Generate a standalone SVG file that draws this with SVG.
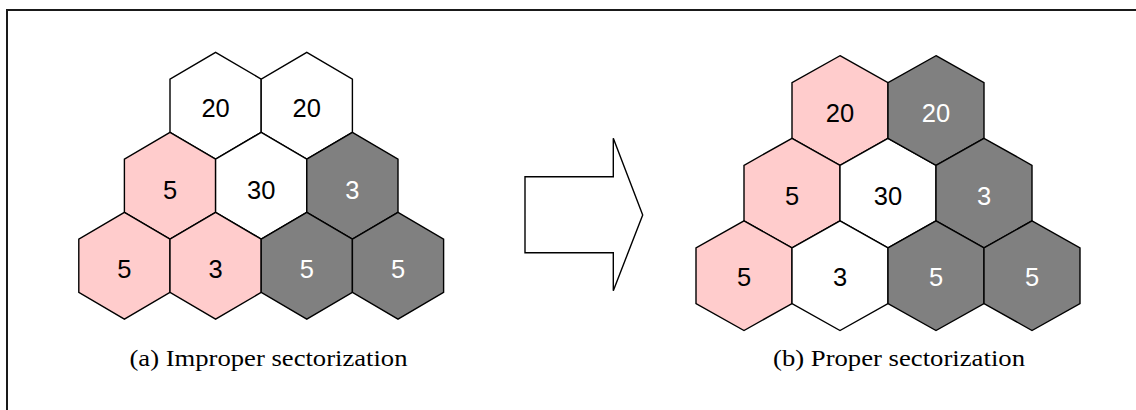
<svg xmlns="http://www.w3.org/2000/svg" width="1136" height="410" viewBox="0 0 1136 410">
  <style>
    .cell { stroke: #000; stroke-width: 1.4; stroke-linejoin: miter; }
    .white { fill: #ffffff; }
    .pink { fill: #ffcccc; }
    .gray { fill: #808080; }
    .num { font-family: "Liberation Sans", Arial, sans-serif; font-size: 25.5px; text-anchor: middle; fill: #000; }
    .num.light { fill: #ffffff; }
    .caption { font-family: "Liberation Serif", "Times New Roman", serif; font-size: 23px; fill: #000; }
    .arrow { fill: #ffffff; stroke: #000; stroke-width: 1.4; stroke-linejoin: miter; }
  </style>

  <rect x="0" y="0" width="1136" height="410" fill="#ffffff"/>
  <!-- outer frame (continues past the right and bottom edges) -->
  <rect x="7" y="10" width="1150" height="420" fill="none" stroke="#1a1a1a" stroke-width="2"/>

  <!-- (a) improper sectorization -->
  <g id="panel-a">
    <g id="a-r1-c1"><polygon class="cell white" points="215.6,52.3 261.2,79.05 261.2,132.35 215.6,159.1 170,132.35 170,79.05"/><text class="num" x="215.6" y="117">20</text></g>
    <g id="a-r1-c2"><polygon class="cell white" points="306.8,52.3 352.4,79.05 352.4,132.35 306.8,159.1 261.2,132.35 261.2,79.05"/><text class="num" x="306.8" y="117">20</text></g>
    <g id="a-r2-c1"><polygon class="cell pink" points="170,132.35 215.6,159.1 215.6,212.4 170,239.15 124.4,212.4 124.4,159.1"/><text class="num" x="170" y="199">5</text></g>
    <g id="a-r2-c2"><polygon class="cell white" points="261.2,132.35 306.8,159.1 306.8,212.4 261.2,239.15 215.6,212.4 215.6,159.1"/><text class="num" x="261.2" y="199">30</text></g>
    <g id="a-r3-c1"><polygon class="cell pink" points="124.4,212.4 170,239.15 170,292.45 124.4,319.2 78.8,292.45 78.8,239.15"/><text class="num" x="124.4" y="278">5</text></g>
    <g id="a-r3-c2"><polygon class="cell pink" points="215.6,212.4 261.2,239.15 261.2,292.45 215.6,319.2 170,292.45 170,239.15"/><text class="num" x="215.6" y="278">3</text></g>
    <g id="a-r2-c3"><polygon class="cell gray" points="352.4,132.35 398,159.1 398,212.4 352.4,239.15 306.8,212.4 306.8,159.1"/><text class="num light" x="352.4" y="199">3</text></g>
    <g id="a-r3-c3"><polygon class="cell gray" points="306.8,212.4 352.4,239.15 352.4,292.45 306.8,319.2 261.2,292.45 261.2,239.15"/><text class="num light" x="306.8" y="278">5</text></g>
    <g id="a-r3-c4"><polygon class="cell gray" points="398,212.4 443.6,239.15 443.6,292.45 398,319.2 352.4,292.45 352.4,239.15"/><text class="num light" x="398" y="278">5</text></g>
    <text id="caption-a" class="caption" x="129.5" y="365.5" textLength="278" lengthAdjust="spacingAndGlyphs">(a) Improper sectorization</text>
  </g>

  <!-- block arrow between the panels -->
  <g id="connectors">
    <polygon class="arrow" points="525,176.7 613.3,176.7 613.3,138.3 642.7,215 613.3,290.7 613.3,252.7 525,252.7"/>
  </g>

  <!-- (b) proper sectorization -->
  <g id="panel-b">
    <g id="b-r1-c1"><polygon class="cell pink" points="840,55.7 888,82.7 888,138.3 840,165.3 792,138.3 792,82.7"/><text class="num" x="840" y="121.7">20</text></g>
    <g id="b-r2-c1"><polygon class="cell pink" points="792,138.3 840,165.3 840,220.9 792,247.9 744,220.9 744,165.3"/><text class="num" x="792" y="204.5">5</text></g>
    <g id="b-r2-c2"><polygon class="cell white" points="888,138.3 936,165.3 936,220.9 888,247.9 840,220.9 840,165.3"/><text class="num" x="888" y="204.5">30</text></g>
    <g id="b-r3-c1"><polygon class="cell pink" points="744,220.9 792,247.9 792,303.5 744,330.5 696,303.5 696,247.9"/><text class="num" x="744" y="285.5">5</text></g>
    <g id="b-r3-c2"><polygon class="cell white" points="840,220.9 888,247.9 888,303.5 840,330.5 792,303.5 792,247.9"/><text class="num" x="840" y="285.5">3</text></g>
    <g id="b-r1-c2"><polygon class="cell gray" points="936,55.7 984,82.7 984,138.3 936,165.3 888,138.3 888,82.7"/><text class="num light" x="936" y="121.7">20</text></g>
    <g id="b-r2-c3"><polygon class="cell gray" points="984,138.3 1032,165.3 1032,220.9 984,247.9 936,220.9 936,165.3"/><text class="num light" x="984" y="204.5">3</text></g>
    <g id="b-r3-c3"><polygon class="cell gray" points="936,220.9 984,247.9 984,303.5 936,330.5 888,303.5 888,247.9"/><text class="num light" x="936" y="285.5">5</text></g>
    <g id="b-r3-c4"><polygon class="cell gray" points="1032,220.9 1080,247.9 1080,303.5 1032,330.5 984,303.5 984,247.9"/><text class="num light" x="1032" y="285.5">5</text></g>
    <text id="caption-b" class="caption" x="773" y="365.5" textLength="252" lengthAdjust="spacingAndGlyphs">(b) Proper sectorization</text>
  </g>
</svg>
